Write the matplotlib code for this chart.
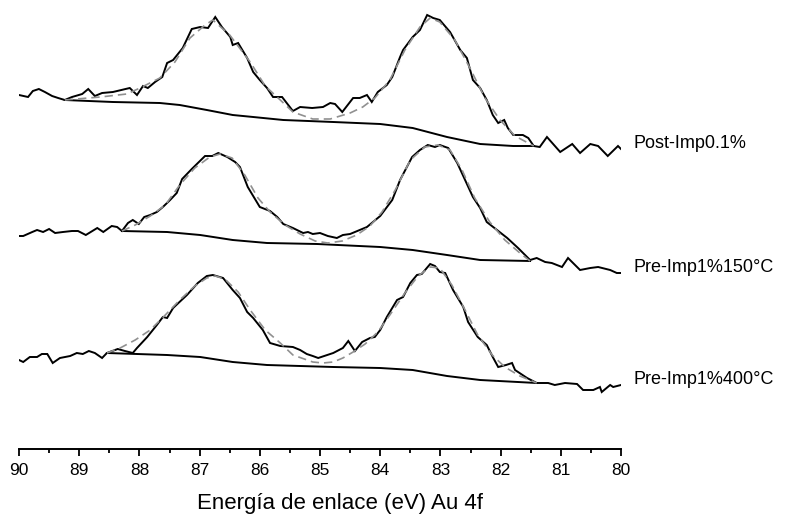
import matplotlib
matplotlib.use("Agg")
import matplotlib.pyplot as plt
from matplotlib.ticker import MultipleLocator

plt.rcParams['font.family'] = ['Liberation Sans', 'DejaVu Sans']

# Au 4f spectra (binding energy in eV, intensity in a.u.)

# Post-Imp0.1%
post_ev = [90.00, 89.85, 89.77, 89.67, 89.57, 89.45, 89.35, 89.24, 89.12, 88.95,
           88.85, 88.74, 88.62, 88.44, 88.16, 88.04, 87.94, 87.86, 87.74, 87.62,
           87.54, 87.44, 87.28, 87.13, 86.99, 86.86, 86.74, 86.63, 86.49, 86.45,
           86.36, 86.21, 86.11, 86.00, 85.88, 85.78, 85.63, 85.45, 85.33, 85.13,
           84.95, 84.83, 84.75, 84.63, 84.45, 84.34, 84.22, 84.14, 84.04, 83.89,
           83.80, 83.67, 83.62, 83.46, 83.34, 83.22, 83.12, 83.01, 82.84, 82.67,
           82.56, 82.46, 82.34, 82.23, 82.13, 82.04, 81.94, 81.88, 81.79, 81.63,
           81.54, 81.45, 81.35, 81.23, 81.01, 80.81, 80.68, 80.51, 80.38, 80.22,
           80.05, 80.00]
post_int = [65, 63, 69, 71, 68, 64, 62, 60, 63, 66,
            71, 64, 67, 68, 72, 65, 74, 72, 78, 83,
            97, 100, 112, 131, 133, 132, 143, 133, 123, 115,
            117, 102, 88, 80, 72, 63, 63, 49, 53, 52,
            53, 57, 56, 48, 62, 62, 65, 58, 68, 75,
            83, 103, 110, 123, 130, 145, 142, 140, 128, 110,
            102, 80, 72, 60, 45, 37, 40, 32, 25, 25,
            22, 14, 13, 23, 8, 16, 7, 16, 14, 4,
            14, 11]
post_fit_ev = [89.24, 88.65, 88.21, 87.99, 87.66, 87.41, 87.16, 86.91, 86.78, 86.50,
               86.16, 85.91, 85.66, 85.45, 85.12, 84.83, 84.50, 84.29, 84.09, 83.84,
               83.59, 83.34, 83.17, 83.01, 82.76, 82.51, 82.26, 82.01, 81.76, 81.45]
post_fit = [60, 63, 66, 72, 82, 98, 122, 135, 140, 125,
            98, 74, 60, 48, 41, 41, 47, 53, 62, 80,
            110, 133, 142, 138, 120, 92, 62, 40, 24, 14]
post_bg_ev = [89.24, 88.44, 87.66, 87.33, 86.88, 86.45, 86.11, 85.61, 84.78, 84.00,
              83.46, 82.89, 82.34, 81.79, 81.45]
post_bg = [60, 58, 57, 55, 50, 45, 43, 40, 38, 36, 32, 23, 16, 14, 14]

# Pre-Imp1%150°C
mid_ev = [90.00, 89.93, 89.78, 89.70, 89.60, 89.50, 89.40, 89.27, 89.12, 89.02,
          88.89, 88.70, 88.60, 88.46, 88.37, 88.29, 88.19, 88.11, 88.01, 87.92,
          87.82, 87.71, 87.61, 87.49, 87.38, 87.29, 87.13, 86.91, 86.79, 86.69,
          86.54, 86.41, 86.33, 86.20, 86.00, 85.83, 85.71, 85.61, 85.45, 85.28,
          85.20, 85.12, 85.00, 84.87, 84.72, 84.62, 84.50, 84.34, 84.22, 84.00,
          83.80, 83.67, 83.47, 83.34, 83.21, 83.09, 83.01, 82.87, 82.72, 82.59,
          82.46, 82.34, 82.23, 82.06, 81.89, 81.71, 81.51, 81.40, 81.26, 81.15,
          80.98, 80.88, 80.68, 80.51, 80.38, 80.18, 80.07, 80.00]
mid_int = [44, 44, 48, 50, 48, 51, 47, 48, 49, 49,
           45, 52, 48, 54, 53, 49, 57, 60, 56, 63,
           65, 68, 73, 80, 87, 101, 111, 124, 124, 127,
           123, 118, 113, 93, 73, 69, 63, 56, 52, 47,
           48, 46, 47, 44, 42, 45, 46, 50, 53, 64,
           80, 100, 123, 130, 135, 133, 135, 132, 117, 100,
           83, 72, 58, 50, 42, 32, 20, 22, 18, 17,
           13, 22, 10, 12, 13, 10, 7, 7]
mid_fit_ev = [88.29, 88.07, 87.82, 87.57, 87.33, 87.08, 86.83, 86.66, 86.46, 86.25,
              86.03, 85.83, 85.58, 85.33, 85.08, 84.87, 84.63, 84.39, 84.17, 83.97,
              83.75, 83.50, 83.26, 83.04, 82.84, 82.64, 82.43, 82.18, 81.93, 81.68,
              81.51]
mid_fit = [49, 55, 64, 75, 95, 112, 123, 126, 122, 105,
           82, 68, 55, 46, 39, 37, 39, 45, 54, 68,
           90, 120, 133, 135, 130, 110, 82, 58, 40, 27,
           19]
mid_bg_ev = [88.29, 87.54, 86.99, 86.45, 85.88, 85.05, 84.00, 83.46, 82.89, 82.34, 81.51]
mid_bg = [49, 48, 45, 40, 37, 36, 33, 30, 25, 20, 19]

# Pre-Imp1%400°C
bot_ev = [90.00, 89.93, 89.82, 89.70, 89.62, 89.53, 89.44, 89.32, 89.15, 89.04,
          88.94, 88.84, 88.74, 88.62, 88.54, 88.36, 88.24, 88.11, 88.04, 87.87,
          87.71, 87.61, 87.54, 87.44, 87.21, 87.03, 86.88, 86.78, 86.61, 86.45,
          86.33, 86.21, 86.11, 85.95, 85.83, 85.66, 85.45, 85.33, 85.22, 85.12,
          85.03, 84.88, 84.78, 84.62, 84.53, 84.42, 84.30, 84.17, 84.09, 84.00,
          83.89, 83.72, 83.62, 83.50, 83.39, 83.31, 83.17, 83.09, 83.01, 82.92,
          82.79, 82.62, 82.54, 82.38, 82.23, 82.13, 82.04, 81.91, 81.81, 81.76,
          81.56, 81.40, 81.21, 81.10, 80.93, 80.73, 80.63, 80.46, 80.35, 80.32,
          80.18, 80.13, 80.00]
bot_int = [35, 33, 38, 38, 41, 41, 32, 37, 39, 42,
           41, 44, 42, 37, 42, 46, 44, 42, 47, 58,
           70, 78, 77, 87, 100, 112, 119, 120, 117, 105,
           97, 83, 77, 65, 52, 49, 48, 45, 41, 39,
           37, 40, 42, 47, 54, 44, 53, 57, 58, 65,
           78, 95, 98, 112, 120, 121, 131, 129, 123, 122,
           105, 88, 73, 58, 50, 38, 28, 30, 32, 25,
           17, 12, 12, 10, 12, 11, 5, 5, 8, 3,
           10, 8, 10]
bot_fit_ev = [88.54, 88.32, 88.07, 87.82, 87.57, 87.33, 87.08, 86.88, 86.74, 86.58,
              86.36, 86.16, 85.91, 85.66, 85.45, 85.12, 84.95, 84.78, 84.62, 84.45,
              84.25, 84.04, 83.84, 83.59, 83.37, 83.17, 83.01, 82.81, 82.59, 82.38,
              82.14, 81.93, 81.68, 81.40]
bot_fit = [42, 47, 55, 65, 80, 95, 109, 117, 119, 116,
           103, 85, 65, 52, 40, 33, 32, 33, 37, 43,
           51, 63, 80, 102, 119, 128, 127, 110, 85, 60,
           40, 28, 19, 12]
bot_bg_ev = [88.54, 87.54, 86.99, 86.45, 85.88, 85.33, 84.78, 84.00, 83.46, 82.89, 82.34, 81.40]
bot_bg = [42, 40, 38, 33, 30, 29, 28, 27, 25, 19, 15, 12]

labels = ['Post-Imp0.1%', 'Pre-Imp1%150°C', 'Pre-Imp1%400°C']
offsets = [289, 169, 54]

spectra = [
    (post_ev, post_int, post_fit_ev, post_fit, post_bg_ev, post_bg),
    (mid_ev, mid_int, mid_fit_ev, mid_fit, mid_bg_ev, mid_bg),
    (bot_ev, bot_int, bot_fit_ev, bot_fit, bot_bg_ev, bot_bg),
]

fig = plt.figure(figsize=(7.85, 5.14), dpi=100)
ax = fig.add_axes([19 / 785, 65 / 514, 602 / 785, 449 / 514])

for (ev, inten, fev, fit, bev, bg), off, lab in zip(spectra, offsets, labels):
    ax.plot(bev, [v + off for v in bg], color='black', lw=1.4, zorder=2)
    ax.plot(ev, [v + off for v in inten], color='black', lw=1.4, zorder=3,
            solid_joinstyle='miter')
    ax.plot(fev, [v + off for v in fit], color='#909090', lw=1.2,
            dashes=(5, 3), zorder=4)
    ax.text(79.8, off + inten[-1] + 6, lab, fontsize=13, ha='left',
            va='center', clip_on=False)

ax.set_xlim(90, 80)
ax.set_ylim(0, 449)
ax.xaxis.set_major_locator(MultipleLocator(1))
ax.xaxis.set_minor_locator(MultipleLocator(0.5))
ax.tick_params(axis='x', which='major', direction='out', length=5, width=1.3,
               labelsize=12.5, pad=5)
ax.tick_params(axis='x', which='minor', direction='out', length=3, width=1.3)
ax.set_yticks([])
for side in ['top', 'left', 'right']:
    ax.spines[side].set_visible(False)
ax.spines['bottom'].set_linewidth(1.4)
ax.patch.set_visible(False)

fig.text(340 / 785, 1 - 503 / 514, 'Energía de enlace (eV) Au 4f', fontsize=16,
         ha='center', va='center')

fig.savefig('out.png', dpi=100)
